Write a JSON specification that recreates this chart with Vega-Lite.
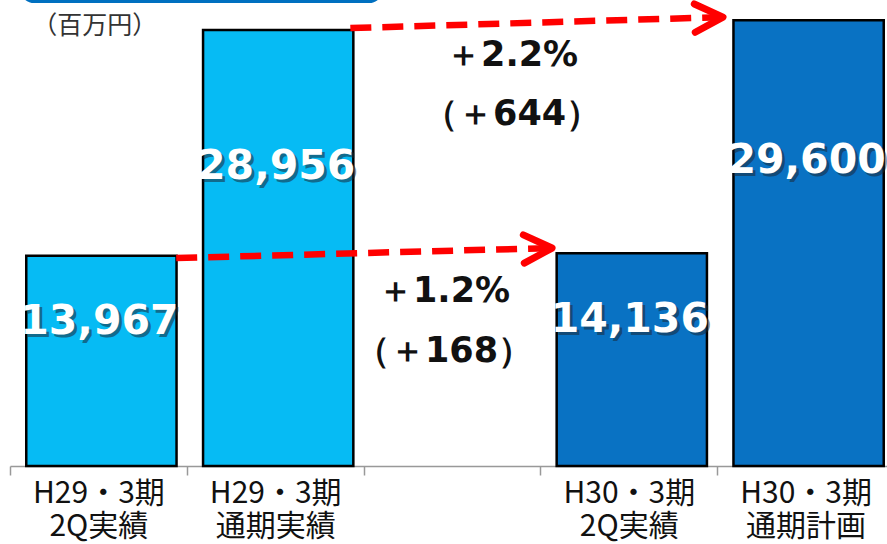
{
  "$schema": "https://vega.github.io/schema/vega-lite/v6.json",
  "width": 877,
  "height": 466,
  "autosize": "none",
  "padding": {"left": 10, "top": 0, "right": 0, "bottom": 78},
  "background": "white",
  "config": {"view": {"stroke": null}},
  "datasets": {
    "bars": [
      {"cat": "H29・3期|2Q実績", "value": 13967, "label": "13,967", "group": "H29"},
      {"cat": "H29・3期|通期実績", "value": 28956, "label": "28,956", "group": "H29"},
      {"cat": "H30・3期|2Q実績", "value": 14136, "label": "14,136", "group": "H30"},
      {"cat": "H30・3期|通期計画", "value": 29600, "label": "29,600", "group": "H30"}
    ],
    "arrows": [
      {"id": "a", "pos": 0.94, "value": 13811},
      {"id": "a", "pos": 3.04, "value": 14470},
      {"id": "b", "pos": 1.925, "value": 29084},
      {"id": "b", "pos": 4.02, "value": 29810}
    ],
    "heads": [
      {"pos": 3.066, "value": 14475},
      {"pos": 4.033, "value": 29814}
    ],
    "notes": [
      {"pos": 2.455, "value": 11620, "text": "＋1.2%"},
      {"pos": 2.455, "value": 7636, "text": "（＋168）"},
      {"pos": 2.84, "value": 27291, "text": "＋2.2%"},
      {"pos": 2.84, "value": 23373, "text": "（＋644）"}
    ],
    "unit": [{"pos": 0.48, "value": 29200, "text": "（百万円）"}],
    "header": [{"x1": 0.057, "x2": 2.11, "y1": 30744, "y2": 33500}]
  },
  "layer": [
    {
      "layer": [
        {
          "data": {"name": "bars"},
          "mark": {"type": "bar", "width": {"band": 0.85}, "stroke": "#000000", "strokeWidth": 2.5},
          "encoding": {
            "x": {
              "field": "cat", "type": "nominal", "sort": null,
              "scale": {
                "domain": ["H29・3期|2Q実績", "H29・3期|通期実績", "gap", "H30・3期|2Q実績", "H30・3期|通期計画"],
                "paddingInner": 0, "paddingOuter": 0,
                "range": [0, 884]
              },
              "axis": {
                "title": null,
                "labelAngle": 0,
                "labelExpr": "datum.label == 'gap' ? '' : split(datum.label, '|')",
                "labelFont": "Noto Sans CJK JP",
                "labelFontSize": 30,
                "labelLineHeight": 33,
                "labelColor": "#111111",
                "labelPadding": 3,
                "labelBaseline": "top",
                "domainColor": "#999999",
                "domainWidth": 1.5,
                "tickColor": "#999999",
                "tickWidth": 1.5,
                "tickSize": 9,
                "tickBand": "extent",
                "labelBound": false,
                "labelOverlap": false
              }
            },
            "xOffset": {"value": 3},
            "y": {
              "field": "value", "type": "quantitative",
              "scale": {"domain": [0, 30950], "nice": false, "zero": true},
              "axis": null
            },
            "color": {
              "field": "group", "type": "nominal",
              "scale": {"domain": ["H29", "H30"], "range": ["#06BBF4", "#0972C3"]},
              "legend": null
            }
          }
        },
        {
          "data": {"name": "bars"},
          "transform": [{"calculate": "datum.value * 0.685", "as": "ly"}],
          "mark": {"type": "text", "font": "DejaVu Sans", "fontWeight": "bold", "fontSize": 41, "color": "#1a2a3a", "opacity": 0.55, "dx": 4, "dy": 3, "baseline": "middle", "align": "center"},
          "encoding": {
            "x": {"field": "cat", "type": "nominal", "sort": null},
            "y": {"field": "ly", "type": "quantitative"},
            "text": {"field": "label"}
          }
        },
        {
          "data": {"name": "bars"},
          "transform": [{"calculate": "datum.value * 0.685", "as": "ly"}],
          "mark": {"type": "text", "font": "DejaVu Sans", "fontWeight": "bold", "fontSize": 41, "color": "#FFFFFF", "dx": 1, "baseline": "middle", "align": "center"},
          "encoding": {
            "x": {"field": "cat", "type": "nominal", "sort": null},
            "y": {"field": "ly", "type": "quantitative"},
            "text": {"field": "label"}
          }
        }
      ]
    },
    {
      "layer": [
        {
          "data": {"name": "header"},
          "mark": {"type": "rect", "color": "#0070C0", "cornerRadius": 14},
          "encoding": {
            "x": {"field": "x1", "type": "quantitative", "scale": {"domain": [0, 5], "nice": false, "zero": true, "range": [0, 884]}, "axis": null},
            "x2": {"field": "x2"},
            "y": {"field": "y1", "type": "quantitative"},
            "y2": {"field": "y2"}
          }
        },
        {
          "data": {"name": "arrows"},
          "mark": {"type": "line", "color": "#FF0000", "strokeWidth": 6.5, "strokeDash": [21, 11]},
          "encoding": {
            "x": {"field": "pos", "type": "quantitative", "axis": null},
            "y": {"field": "value", "type": "quantitative"},
            "detail": {"field": "id"}
          }
        },
        {
          "data": {"name": "heads"},
          "mark": {"type": "point", "shape": "M -2 -1 L 0 0 L -2 1", "filled": false, "stroke": "#FF0000", "strokeWidth": 7, "strokeCap": "round", "strokeJoin": "round", "size": 800, "angle": -2, "opacity": 1},
          "encoding": {
            "x": {"field": "pos", "type": "quantitative", "axis": null},
            "y": {"field": "value", "type": "quantitative"}
          }
        },
        {
          "data": {"name": "notes"},
          "mark": {"type": "text", "font": "DejaVu Sans", "fontWeight": "bold", "fontSize": 35, "color": "#111111", "baseline": "middle", "align": "center"},
          "encoding": {
            "x": {"field": "pos", "type": "quantitative", "axis": null},
            "y": {"field": "value", "type": "quantitative"},
            "text": {"field": "text"}
          }
        },
        {
          "data": {"name": "unit"},
          "mark": {"type": "text", "font": "Noto Sans CJK JP", "fontSize": 25, "color": "#333333", "baseline": "middle", "align": "center"},
          "encoding": {
            "x": {"field": "pos", "type": "quantitative", "axis": null},
            "y": {"field": "value", "type": "quantitative"},
            "text": {"field": "text"}
          }
        }
      ]
    }
  ],
  "resolve": {"scale": {"x": "independent"}, "axis": {"x": "independent"}}
}
